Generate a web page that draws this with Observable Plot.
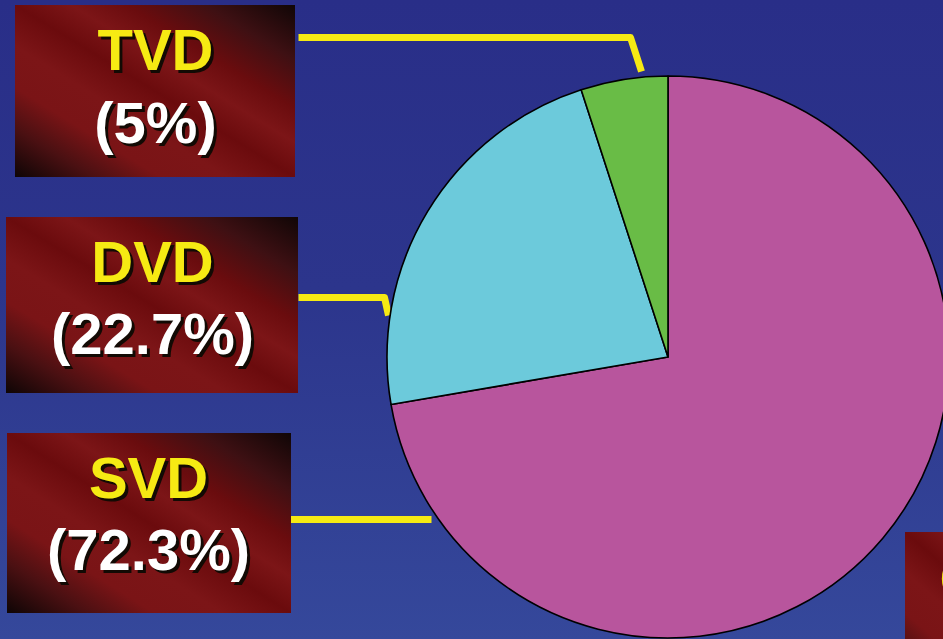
<!DOCTYPE html>
<html><head><meta charset="utf-8">
<script src="https://cdn.jsdelivr.net/npm/d3@7"></script>
<script src="https://cdn.jsdelivr.net/npm/@observablehq/plot@0.6"></script>
<style>
html,body{margin:0;padding:0;background:#2f3c93;overflow:hidden;width:943px;height:639px}
#chart svg{display:block}
</style>
</head><body><div id="chart"></div>
<script>
// ---------- data ----------
const categories = ["SVD", "DVD", "TVD"];
const shares = [72.3, 22.7, 5];
const sliceColors = ["#b8559d", "#6ccadb", "#69bc46"];
const percentLabels = shares.map(v => `(${v}%)`);
const cutOffLabel = "C";

// ---------- layout (pixel frame, annotation only) ----------
const W = 943, H = 639;
const pieLayout = {cx: 668, cy: 357, r: 281};
const boxLayout = {
  TVD: {x1: 15, x2: 295, y1: 5,   y2: 177, cx: 155, titleY: 69,  pctY: 142},
  DVD: {x1: 6,  x2: 298, y1: 217, y2: 393, cx: 152, titleY: 281, pctY: 353},
  SVD: {x1: 7,  x2: 291, y1: 433, y2: 613, cx: 148, titleY: 497, pctY: 569}
};
const connectorLayout = {
  TVD: [[298, 37], [630, 37], [641, 71]],
  DVD: [[298, 297], [384, 297], [388, 315]],
  SVD: [[287, 519], [431, 519]]
};
const extraBox = {x1: 905, x2: 1100, y1: 532, y2: 700, x: 939, y: 598};

const colorScale = Plot.scale({color: {type: "ordinal", domain: categories, range: sliceColors}});
const pieData = categories.map((c, i) => ({category: c, share: shares[i]}));

const labelData = categories.map((c, i) => ({name: c, pct: percentLabels[i], ...boxLayout[c]}));
const connectorData = categories.flatMap(c => connectorLayout[c].map(([x, y]) => ({id: c, x, y})));

function pieMark(...args) {
  const scales = args.find(a => a && typeof a.x === "function" && typeof a.y === "function");
  const sx = scales ? scales.x : (v => v), sy = scales ? scales.y : (v => v);
  const cx = sx(pieLayout.cx), cy = sy(pieLayout.cy);
  const r = sx(pieLayout.cx + pieLayout.r) - cx;
  const arcs = d3.pie().sort(null).value(d => d.share)(pieData);
  const g = d3.create("svg:g").attr("transform", `translate(${cx},${cy})`);
  g.selectAll("path").data(arcs).join("path")
    .attr("d", d3.arc().innerRadius(0).outerRadius(r))
    .attr("fill", d => colorScale.apply(d.data.category))
    .attr("stroke", "#000").attr("stroke-width", 1.6).attr("stroke-linejoin", "round");
  return g.node();
}

const font = "'Liberation Sans', Arial, Helvetica, sans-serif";
const txt = {fontSize: 58, fontWeight: "bold", fontFamily: font, textAnchor: "middle", lineAnchor: "bottom"};

const chart = Plot.plot({
  width: W, height: H,
  margin: 0,
  x: {domain: [0, W], range: [0, W], axis: null},
  y: {domain: [0, H], range: [0, H], axis: null},
  style: {background: "linear-gradient(180deg, #292e88 0%, #2c358c 45%, #35489b 100%)", overflow: "hidden"},
  marks: [
    Plot.line(connectorData, {x: "x", y: "y", z: "id", stroke: "#f6ea13", strokeWidth: 7, strokeLinejoin: "round", strokeLinecap: "butt"}),
    pieMark,
    Plot.rect(labelData, {x1: "x1", x2: "x2", y1: "y1", y2: "y2", fill: "url(#boxgrad)"}),
    Plot.rect([extraBox], {x1: "x1", x2: "x2", y1: "y1", y2: "y2", fill: "url(#boxgrad)"}),
    Plot.text(labelData, {x: "cx", y: "titleY", text: "name", fill: "#120a04", dx: 3, dy: 3, ...txt}),
    Plot.text(labelData, {x: "cx", y: "titleY", text: "name", fill: "#f6ea13", ...txt}),
    Plot.text(labelData, {x: "cx", y: "pctY", text: "pct", fill: "#120a04", dx: 3, dy: 3, ...txt}),
    Plot.text(labelData, {x: "cx", y: "pctY", text: "pct", fill: "#ffffff", ...txt}),
    Plot.text([extraBox], {x: "x", y: "y", text: () => cutOffLabel, fill: "#f6ea13", ...txt, textAnchor: "start"})
  ]
});

const defs = d3.select(chart).insert("defs", ":first-child");
const grad = defs.append("linearGradient").attr("id", "boxgrad")
  .attr("x1", "1").attr("y1", "0").attr("x2", "0").attr("y2", "1");
[[0, "#100606"], [0.16, "#3e1013"], [0.3, "#6a0c0e"], [0.4, "#7c1517"], [0.5, "#6b0b0d"], [0.62, "#7c1517"], [0.74, "#7a1416"], [0.86, "#4a1012"], [1, "#0e0505"]]
  .forEach(([o, c]) => grad.append("stop").attr("offset", o).attr("stop-color", c));

document.getElementById("chart").appendChild(chart);
</script>
</body></html>
